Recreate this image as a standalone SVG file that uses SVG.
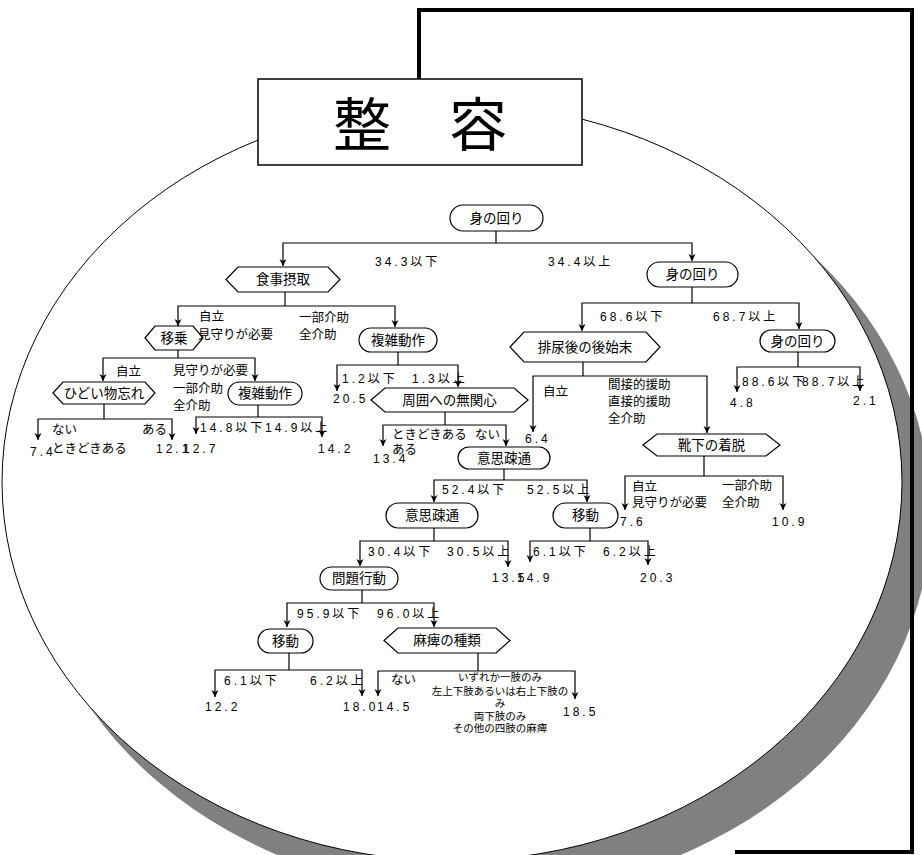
<svg xmlns="http://www.w3.org/2000/svg" width="922" height="855" viewBox="0 0 922 855">
<defs>
<marker id="ah" markerUnits="userSpaceOnUse" markerWidth="8" markerHeight="9" refX="7" refY="4" orient="auto">
<path d="M0,0.5 L7,4 L0,7.5 L2,4 z" fill="#000"/>
</marker>
<style>
.n{fill:#fff;stroke:#000;stroke-width:1.2}
.c{fill:none;stroke:#000;stroke-width:1.2}
.cm{fill:none;stroke:#000;stroke-width:1.2;marker-end:url(#ah)}
.t{font-family:"Liberation Sans","Noto Sans CJK JP",sans-serif;font-size:13.5px;text-anchor:middle;dominant-baseline:central;fill:#000}
.l{font-family:"Liberation Sans","Noto Sans CJK JP",sans-serif;font-size:12.5px;dominant-baseline:central;fill:#000}
.v{font-family:"Liberation Sans","Noto Sans CJK JP",sans-serif;font-size:12px;letter-spacing:3px;dominant-baseline:central;fill:#000}
.s{font-family:"Liberation Sans","Noto Sans CJK JP",sans-serif;font-size:10.5px;text-anchor:middle;dominant-baseline:central;fill:#000}
.frame{fill:none;stroke:#000;stroke-width:4}
</style>
</defs>
<rect width="922" height="855" fill="#fff"/>
<ellipse cx="479" cy="513" rx="452" ry="382" fill="#808080"/>
<ellipse cx="452" cy="482" rx="450" ry="379" fill="#fff" stroke="#000" stroke-width="1"/>
<path class="frame" d="M419,79 V10 H912 V852 H735"/>
<g id="title">
<rect x="258" y="79" width="324" height="86" fill="#fff" stroke="#000" stroke-width="1.5"/>
<text x="420" y="121" font-family="Noto Sans CJK JP, sans-serif" font-size="58" text-anchor="middle" dominant-baseline="central">整　容</text>
</g>

<g id="connectors">
<path class="c" d="M496,231 V243"/><path class="cm" d="M496,243 H283 V266"/><path class="cm" d="M496,243 H692 V261"/>
<path class="c" d="M285,292 V306"/><path class="cm" d="M285,306 H178 V326"/><path class="cm" d="M285,306 H395 V327"/>
<path class="c" d="M692,287 V303"/><path class="cm" d="M692,303 H582 V331"/><path class="cm" d="M692,303 H799 V329"/>
<path class="c" d="M178,350 V358"/><path class="cm" d="M178,358 H103 V381"/><path class="cm" d="M178,358 H255 V381"/>
<path class="c" d="M398,352 V365"/><path class="cm" d="M398,365 H337 V391"/><path class="cm" d="M398,365 H458 V387"/>
<path class="c" d="M583,362 V376"/><path class="cm" d="M583,376 H533 V432"/><path class="cm" d="M583,376 H707 V433"/>
<path class="c" d="M798,352 V367"/><path class="cm" d="M798,367 H737 V392"/><path class="cm" d="M798,367 H860 V391"/>
<path class="c" d="M104,404 V419"/><path class="cm" d="M104,419 H38 V440"/><path class="cm" d="M104,419 H172 V440"/>
<path class="c" d="M258,405 V417"/><path class="cm" d="M258,417 H196 V434"/><path class="cm" d="M258,417 H322 V437"/>
<path class="c" d="M445,412 V425"/><path class="cm" d="M445,425 H383 V446"/><path class="cm" d="M445,425 H506 V446"/>
<path class="c" d="M704,456 V476"/><path class="cm" d="M704,476 H625 V510"/><path class="cm" d="M704,476 H783 V510"/>
<path class="c" d="M504,469 V480"/><path class="cm" d="M504,480 H434 V502"/><path class="cm" d="M504,480 H587 V502"/>
<path class="c" d="M434,528 V541"/><path class="cm" d="M434,541 H360 V566"/><path class="cm" d="M434,541 H508 V567"/>
<path class="c" d="M590,528 V541"/><path class="cm" d="M590,541 H530 V562"/><path class="cm" d="M590,541 H648 V565"/>
<path class="c" d="M362,590 V603"/><path class="cm" d="M362,603 H287 V627"/><path class="cm" d="M362,603 H434 V627"/>
<path class="c" d="M289,653 V670"/><path class="cm" d="M289,670 H215 V697"/><path class="cm" d="M289,670 H362 V696"/>
<path class="c" d="M478,653 V671"/><path class="cm" d="M478,671 H378 V696"/><path class="cm" d="M478,671 H575 V699"/>
</g>

<g id="n-root"><rect class="n" x="450" y="205" width="93" height="26" rx="13"/><text class="t" x="496.5" y="218">身の回り</text></g>
<g id="n-shokuji"><polygon class="n" points="226,279.5 238,267 328,267 340,279.5 328,292 238,292"/><text class="t" x="283" y="279.5">食事摂取</text></g>
<g id="n-mi2"><rect class="n" x="647" y="262" width="91" height="25" rx="12.5"/><text class="t" x="692.5" y="274.5">身の回り</text></g>
<g id="n-ijo"><polygon class="n" points="145,338 155,326 193,326 203,338 193,350 155,350"/><text class="t" x="174" y="338">移乗</text></g>
<g id="n-fukuzatsu1"><rect class="n" x="359" y="328" width="78" height="24" rx="12"/><text class="t" x="398" y="340">複雑動作</text></g>
<g id="n-hainyo"><polygon class="n" points="510,347 524,332 646,332 660,347 646,362 524,362"/><text class="t" x="585" y="347">排尿後の後始末</text></g>
<g id="n-mi3"><rect class="n" x="760" y="330" width="75" height="22" rx="11"/><text class="t" x="797.5" y="341">身の回り</text></g>
<g id="n-monowasure"><polygon class="n" points="53,393 63,382 145,382 155,393 145,404 63,404"/><text class="t" x="104" y="393">ひどい物忘れ</text></g>
<g id="n-fukuzatsu2"><rect class="n" x="228" y="382" width="74" height="23" rx="11.5"/><text class="t" x="265" y="393.5">複雑動作</text></g>
<g id="n-mukanshin"><polygon class="n" points="371,400 385,388 514,388 528,400 514,412 385,412"/><text class="t" x="449.5" y="400">周囲への無関心</text></g>
<g id="n-ishi1"><rect class="n" x="458" y="447" width="92" height="22" rx="11"/><text class="t" x="504" y="458">意思疎通</text></g>
<g id="n-kutsushita"><polygon class="n" points="643,445 657,434 766,434 780,445 766,456 657,456"/><text class="t" x="711.5" y="445">靴下の着脱</text></g>
<g id="n-ishi2"><rect class="n" x="386" y="503" width="92" height="25" rx="12.5"/><text class="t" x="432" y="515.5">意思疎通</text></g>
<g id="n-ido1"><rect class="n" x="553" y="503" width="65" height="25" rx="12.5"/><text class="t" x="585.5" y="515.5">移動</text></g>
<g id="n-mondai"><rect class="n" x="320" y="567" width="78" height="23" rx="11.5"/><text class="t" x="359" y="578.5">問題行動</text></g>
<g id="n-ido2"><rect class="n" x="258" y="629" width="55" height="24" rx="12"/><text class="t" x="285.5" y="641">移動</text></g>
<g id="n-mahi"><polygon class="n" points="384,640.5 398,628 496,628 510,640.5 496,653 398,653"/><text class="t" x="447" y="640.5">麻痺の種類</text></g>

<g id="labels">
<text class="v" x="375" y="262">34.3以下</text><text class="v" x="548" y="262">34.4以上</text>
<text class="l" x="199" y="317">自立</text><text class="l" x="198" y="335">見守りが必要</text>
<text class="l" x="299" y="318">一部介助</text><text class="l" x="299" y="335">全介助</text>
<text class="v" x="600" y="317">68.6以下</text><text class="v" x="713" y="317">68.7以上</text>
<text class="l" x="116" y="372">自立</text><text class="l" x="173" y="371">見守りが必要</text><text class="l" x="173" y="388.5">一部介助</text><text class="l" x="173" y="406">全介助</text>
<text class="v" x="342" y="379">1.2以下</text><text class="v" x="412" y="379">1.3以上</text>
<text class="v" x="333" y="399">20.5</text>
<text class="v" x="742" y="382">88.6以下</text><text class="v" x="802" y="382">88.7以上</text>
<text class="v" x="730" y="403">4.8</text><text class="v" x="853" y="401">2.1</text>
<text class="l" x="543" y="392">自立</text>
<text class="l" x="608" y="385">間接的援助</text><text class="l" x="608" y="402">直接的援助</text><text class="l" x="608" y="419">全介助</text>
<text class="v" x="525" y="439">6.4</text>
<text class="l" x="52" y="430">ない</text><text class="l" x="52" y="449">ときどきある</text><text class="l" x="142" y="430">ある</text>
<text class="v" x="30" y="452">7.4</text><text class="v" x="156" y="449">12.1</text>
<text class="v" x="200" y="428">14.8以下</text><text class="v" x="265" y="428">14.9以上</text>
<text class="v" x="183" y="449">12.7</text><text class="v" x="318" y="449">14.2</text>
<text class="l" x="392" y="435">ときどきある</text><text class="l" x="475" y="435">ない</text><text class="l" x="392" y="450">ある</text>
<text class="v" x="373" y="459">13.4</text>
<text class="l" x="632" y="487">自立</text><text class="l" x="632" y="503">見守りが必要</text>
<text class="l" x="722" y="486">一部介助</text><text class="l" x="722" y="503">全介助</text>
<text class="v" x="620" y="522">7.6</text><text class="v" x="772" y="522">10.9</text>
<text class="v" x="442" y="490">52.4以下</text><text class="v" x="527" y="490">52.5以上</text>
<text class="v" x="368" y="552">30.4以下</text><text class="v" x="447" y="552">30.5以上</text>
<text class="v" x="492" y="578">13.5</text><text class="v" x="517" y="578">14.9</text>
<text class="v" x="533" y="552">6.1以下</text><text class="v" x="603" y="552">6.2以上</text>
<text class="v" x="640" y="578">20.3</text>
<text class="v" x="297" y="614">95.9以下</text><text class="v" x="377" y="614">96.0以上</text>
<text class="v" x="224" y="681">6.1以下</text><text class="v" x="310" y="681">6.2以上</text>
<text class="v" x="205" y="707">12.2</text><text class="v" x="343" y="707">18.0</text><text class="v" x="377" y="707">14.5</text>
<text class="l" x="391" y="680">ない</text>
<text class="s" x="500" y="677">いずれか一肢のみ</text>
<text class="s" x="500" y="690.5">左上下肢あるいは右上下肢の</text>
<text class="s" x="500" y="703">み</text>
<text class="s" x="500" y="716">両下肢のみ</text>
<text class="s" x="500" y="728">その他の四肢の麻痺</text>
<text class="v" x="563" y="712">18.5</text>
</g>
</svg>
